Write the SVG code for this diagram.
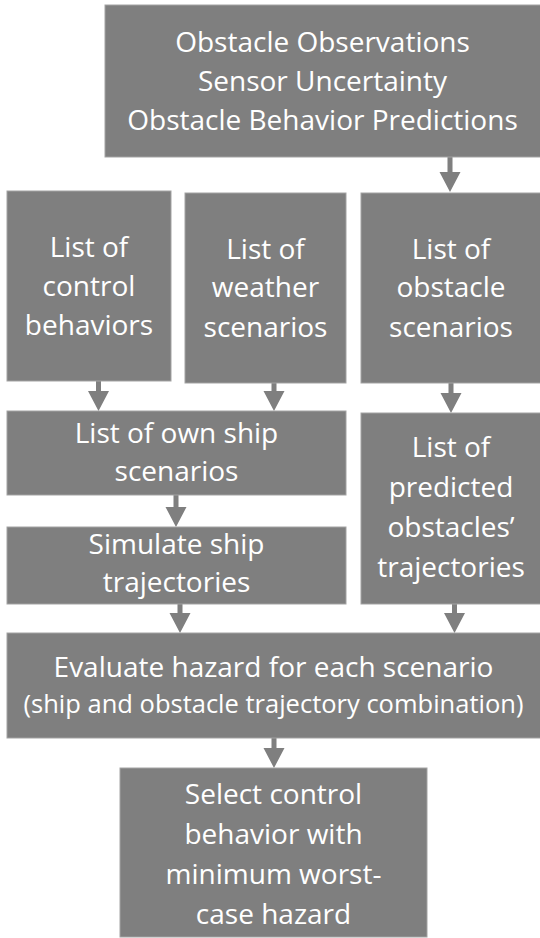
<svg xmlns="http://www.w3.org/2000/svg" width="540" height="938" viewBox="0 0 540 938">
<style>
.box{fill:#7f7f7f;stroke:#a3a3a3;stroke-width:1}
.t{font-family:"Open Sans","Liberation Sans",sans-serif;font-size:28px;fill:#ffffff;text-anchor:middle}
.s{font-size:25.5px}
.arr{fill:#7f7f7f}
</style>
<rect width="540" height="938" fill="#ffffff"/>
<g id="connectors">
<polygon class="arr" points="447.5,157 452.5,157 452.5,172 460.5,172 450,192 439.5,172 447.5,172"/>
<polygon class="arr" points="96,381 101,381 101,391 109,391 98.5,411 88,391 96,391"/>
<polygon class="arr" points="271.5,383 276.5,383 276.5,391 284.5,391 274,411 263.5,391 271.5,391"/>
<polygon class="arr" points="448.5,383 453.5,383 453.5,393 461.5,393 451,413 440.5,393 448.5,393"/>
<polygon class="arr" points="173.5,495 178.5,495 178.5,507 186.5,507 176,527 165.5,507 173.5,507"/>
<polygon class="arr" points="177.5,604 182.5,604 182.5,613 190.5,613 180,633 169.5,613 177.5,613"/>
<polygon class="arr" points="452,604 457,604 457,613 465,613 454.5,633 444,613 452,613"/>
<polygon class="arr" points="271.5,738 276.5,738 276.5,748 284.5,748 274,768 263.5,748 271.5,748"/>
</g>
<g id="obs">
<rect class="box" x="105" y="5" width="436" height="152"/>
<text class="t" x="322.5" y="52">Obstacle Observations</text>
<text class="t" x="322.5" y="91">Sensor Uncertainty</text>
<text class="t" x="322.5" y="130">Obstacle Behavior Predictions</text>
</g>
<g id="control">
<rect class="box" x="7" y="191" width="164" height="190"/>
<text class="t" x="89" y="257">List of</text>
<text class="t" x="89" y="296">control</text>
<text class="t" x="89" y="335">behaviors</text>
</g>
<g id="weather">
<rect class="box" x="185" y="193" width="161" height="190"/>
<text class="t" x="265.5" y="259">List of</text>
<text class="t" x="265.5" y="297">weather</text>
<text class="t" x="265.5" y="337">scenarios</text>
</g>
<g id="obstacle">
<rect class="box" x="361" y="193" width="180" height="190"/>
<text class="t" x="451" y="259">List of</text>
<text class="t" x="451" y="297">obstacle</text>
<text class="t" x="451" y="337">scenarios</text>
</g>
<g id="ownship">
<rect class="box" x="7" y="411" width="339" height="84"/>
<text class="t" x="176.5" y="443">List of own ship</text>
<text class="t" x="176.5" y="481">scenarios</text>
</g>
<g id="simulate">
<rect class="box" x="7" y="527" width="339" height="77"/>
<text class="t" x="176.5" y="554">Simulate ship</text>
<text class="t" x="176.5" y="592">trajectories</text>
</g>
<g id="predicted">
<rect class="box" x="361" y="413" width="180" height="191"/>
<text class="t" x="451" y="457">List of</text>
<text class="t" x="451" y="497">predicted</text>
<text class="t" x="451" y="537">obstacles’</text>
<text class="t" x="451" y="577">trajectories</text>
</g>
<g id="evaluate">
<rect class="box" x="7" y="633" width="534" height="105"/>
<text class="t" x="273.5" y="677">Evaluate hazard for each scenario</text>
<text class="t s" x="273.5" y="713">(ship and obstacle trajectory combination)</text>
</g>
<g id="select">
<rect class="box" x="120" y="768" width="307" height="169"/>
<text class="t" x="273.5" y="804">Select control</text>
<text class="t" x="273.5" y="844">behavior with</text>
<text class="t" x="273.5" y="884">minimum worst-</text>
<text class="t" x="273.5" y="924">case hazard</text>
</g>
</svg>
